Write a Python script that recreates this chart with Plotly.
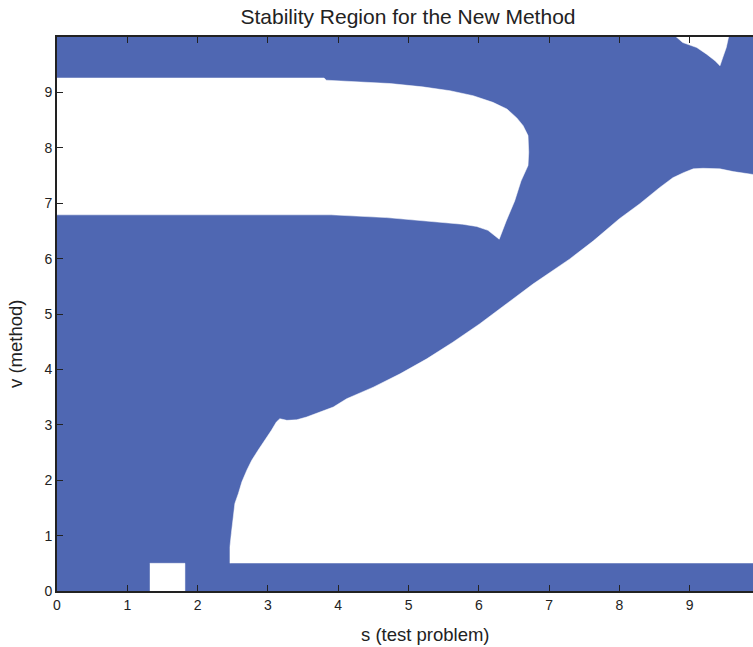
import plotly.graph_objects as go

# Stability region (blue) drawn as the full domain, with unstable (white) holes
domain_s = [0, 10, 10, 0]
domain_v = [0, 0, 10, 10]

upper_hole_s = [-0.05, 3.80, 3.83, 4.35, 4.74, 5.20, 5.59, 5.92, 6.20, 6.40, 6.54, 6.63, 6.70, 6.71,
                6.70, 6.60, 6.51, 6.39, 6.29, 6.13, 5.97, 5.77, 5.49, 5.30, 5.05, 4.69, 3.90, -0.05]
upper_hole_v = [9.26, 9.26, 9.22, 9.19, 9.16, 9.10, 9.03, 8.94, 8.82, 8.70, 8.54, 8.40, 8.22, 7.92,
                7.68, 7.40, 7.04, 6.68, 6.35, 6.51, 6.58, 6.62, 6.65, 6.68, 6.71, 6.74, 6.79, 6.79]

lower_hole_s = [2.46, 2.46, 2.48, 2.51, 2.53, 2.58, 2.63, 2.70, 2.77, 2.86, 2.96, 3.05, 3.12, 3.17,
                3.27, 3.41, 3.55, 3.74, 3.93, 4.12, 4.50, 4.88, 5.26, 5.63, 6.01, 6.39, 6.77, 7.29,
                7.63, 8.00, 8.29, 8.57, 8.76, 8.91, 9.05, 9.19, 9.43, 9.62, 9.81, 10.0, 10.0]
lower_hole_v = [0.50, 0.80, 1.04, 1.34, 1.58, 1.76, 1.97, 2.18, 2.36, 2.54, 2.72, 2.90, 3.05, 3.11,
                3.08, 3.09, 3.14, 3.23, 3.32, 3.47, 3.68, 3.92, 4.19, 4.49, 4.82, 5.18, 5.54, 5.99,
                6.32, 6.72, 6.99, 7.28, 7.46, 7.55, 7.62, 7.63, 7.62, 7.57, 7.53, 7.50, 0.50]

square_s = [1.32, 1.82, 1.82, 1.32]
square_v = [-0.1, -0.1, 0.50, 0.50]

notch_s = [8.72, 8.90, 9.10, 9.24, 9.36, 9.43, 9.47, 9.52, 9.57]
notch_v = [10.1, 9.90, 9.81, 9.69, 9.57, 9.48, 9.63, 9.81, 10.1]

x_ticks = [0, 1, 2, 3, 4, 5, 6, 7, 8, 9]
y_ticks = [0, 1, 2, 3, 4, 5, 6, 7, 8, 9]

title_text = "Stability Region for the New Method"
x_label = "s (test problem)"
y_label = "v (method)"

BLUE = "#4f67b2"
FONT = "Liberation Sans, Arial"
W, H = 753, 647
L, T, B = 57, 37, 56

fig = go.Figure()
fig.add_trace(go.Scatter(x=domain_s, y=domain_v, fill="toself", fillcolor=BLUE,
                         mode="lines", line=dict(width=0, color=BLUE), hoverinfo="skip"))
for hs, hv in [(upper_hole_s, upper_hole_v), (lower_hole_s, lower_hole_v),
               (square_s, square_v), (notch_s, notch_v)]:
    fig.add_trace(go.Scatter(x=hs, y=hv, fill="toself", fillcolor="white",
                             mode="lines", line=dict(width=0.5, color="white"), hoverinfo="skip"))

axis_common = dict(showline=True, linecolor="#222", linewidth=2, ticks="inside",
                   ticklen=6, tickwidth=1.3, tickcolor="#222", showgrid=False, zeroline=False,
                   tickfont=dict(family=FONT, size=14, color="#222"))

pw = W - L
ph = H - T - B

def px_x(px):
    return (px - L) / pw

def px_y(py):
    return (H - B - py) / ph

fig.update_layout(
    width=W, height=H,
    margin=dict(l=L, r=0, t=T, b=B),
    paper_bgcolor="white", plot_bgcolor="white",
    showlegend=False,
    title=dict(text=title_text, x=408 / W, xanchor="center",
               y=1 - 17 / H, yanchor="middle",
               font=dict(family=FONT, size=21, color="#222")),
    xaxis=dict(range=[0, 9.9], tickvals=x_ticks, mirror="ticks", **axis_common),
    yaxis=dict(range=[0, 10], tickvals=y_ticks, mirror=False, **axis_common),
    annotations=[
        dict(text=x_label, xref="paper", yref="paper", x=px_x(425), y=px_y(634),
             xanchor="center", yanchor="middle", showarrow=False,
             font=dict(family=FONT, size=18.5, color="#222")),
        dict(text=y_label, xref="paper", yref="paper", x=px_x(15), y=px_y(344),
             xanchor="center", yanchor="middle", showarrow=False, textangle=-90,
             font=dict(family=FONT, size=18.5, color="#222")),
    ],
)

fig.write_html("out.html", config={"displayModeBar": False},
               post_script="document.body.style.margin='0';document.body.style.overflow='hidden';")
